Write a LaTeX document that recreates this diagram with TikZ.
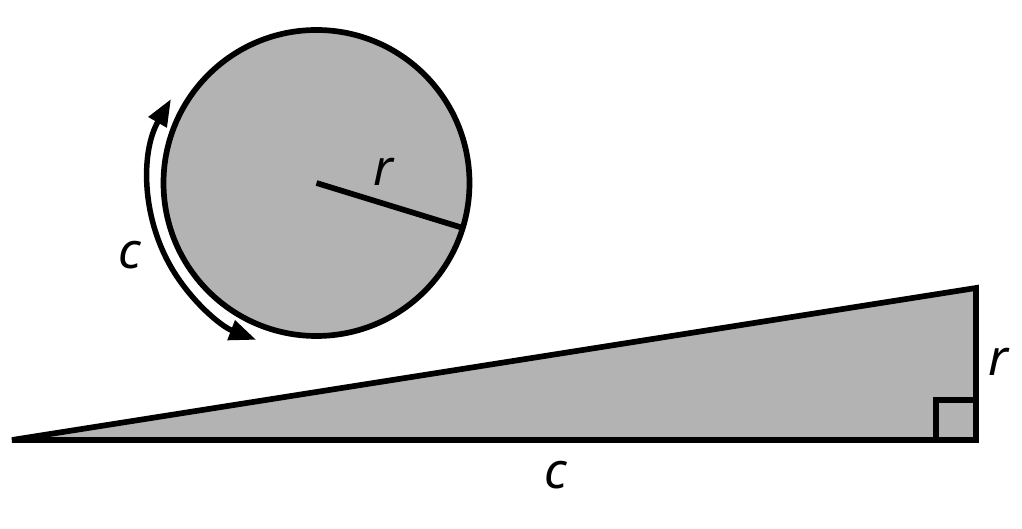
\documentclass[tikz,border=0pt]{standalone}
\usepackage{fontspec}
\setmainfont{Noto Sans}
\usetikzlibrary{arrows.meta}
\definecolor{fillgray}{RGB}{179,179,179}
\tikzset{
  grayshape/.style={draw=black,fill=fillgray,line width=5.7pt},
  lbl/.style={font=\fontsize{50}{60}\selectfont\itshape,inner sep=0pt},
  arr/.style={line width=5.5pt,{Triangle[length=27pt,width=20pt]}-{Triangle[length=27pt,width=20pt]}}
}
\begin{document}
\begin{tikzpicture}[x=1pt,y=1pt]
\useasboundingbox (0,0) rectangle (1022,529);
\coordinate (O) at (316.5,346);
\draw[grayshape] (O) circle[radius=153];
\coordinate (R) at (463,301);
\draw[line width=5.7pt] (O) -- (R);
\draw[arr] ([shift={(150:168)}]O) arc[start angle=150,end angle=249,radius=168];
\coordinate (A) at (12,89);
\coordinate (B) at (976,241);
\coordinate (C) at (976,89);
\draw[grayshape,line join=miter] (A) -- (B) -- (C) -- cycle;
\draw[line width=5.7pt] (936,89) -- (936,129) -- (976,129);
\node[lbl] (rc) at (383,357) {r};
\node[lbl] (cc) at (130,274) {c};
\node[lbl] (rt) at (998,167) {r};
\node[lbl] (cb) at (556,54) {c};
\end{tikzpicture}
\end{document}
